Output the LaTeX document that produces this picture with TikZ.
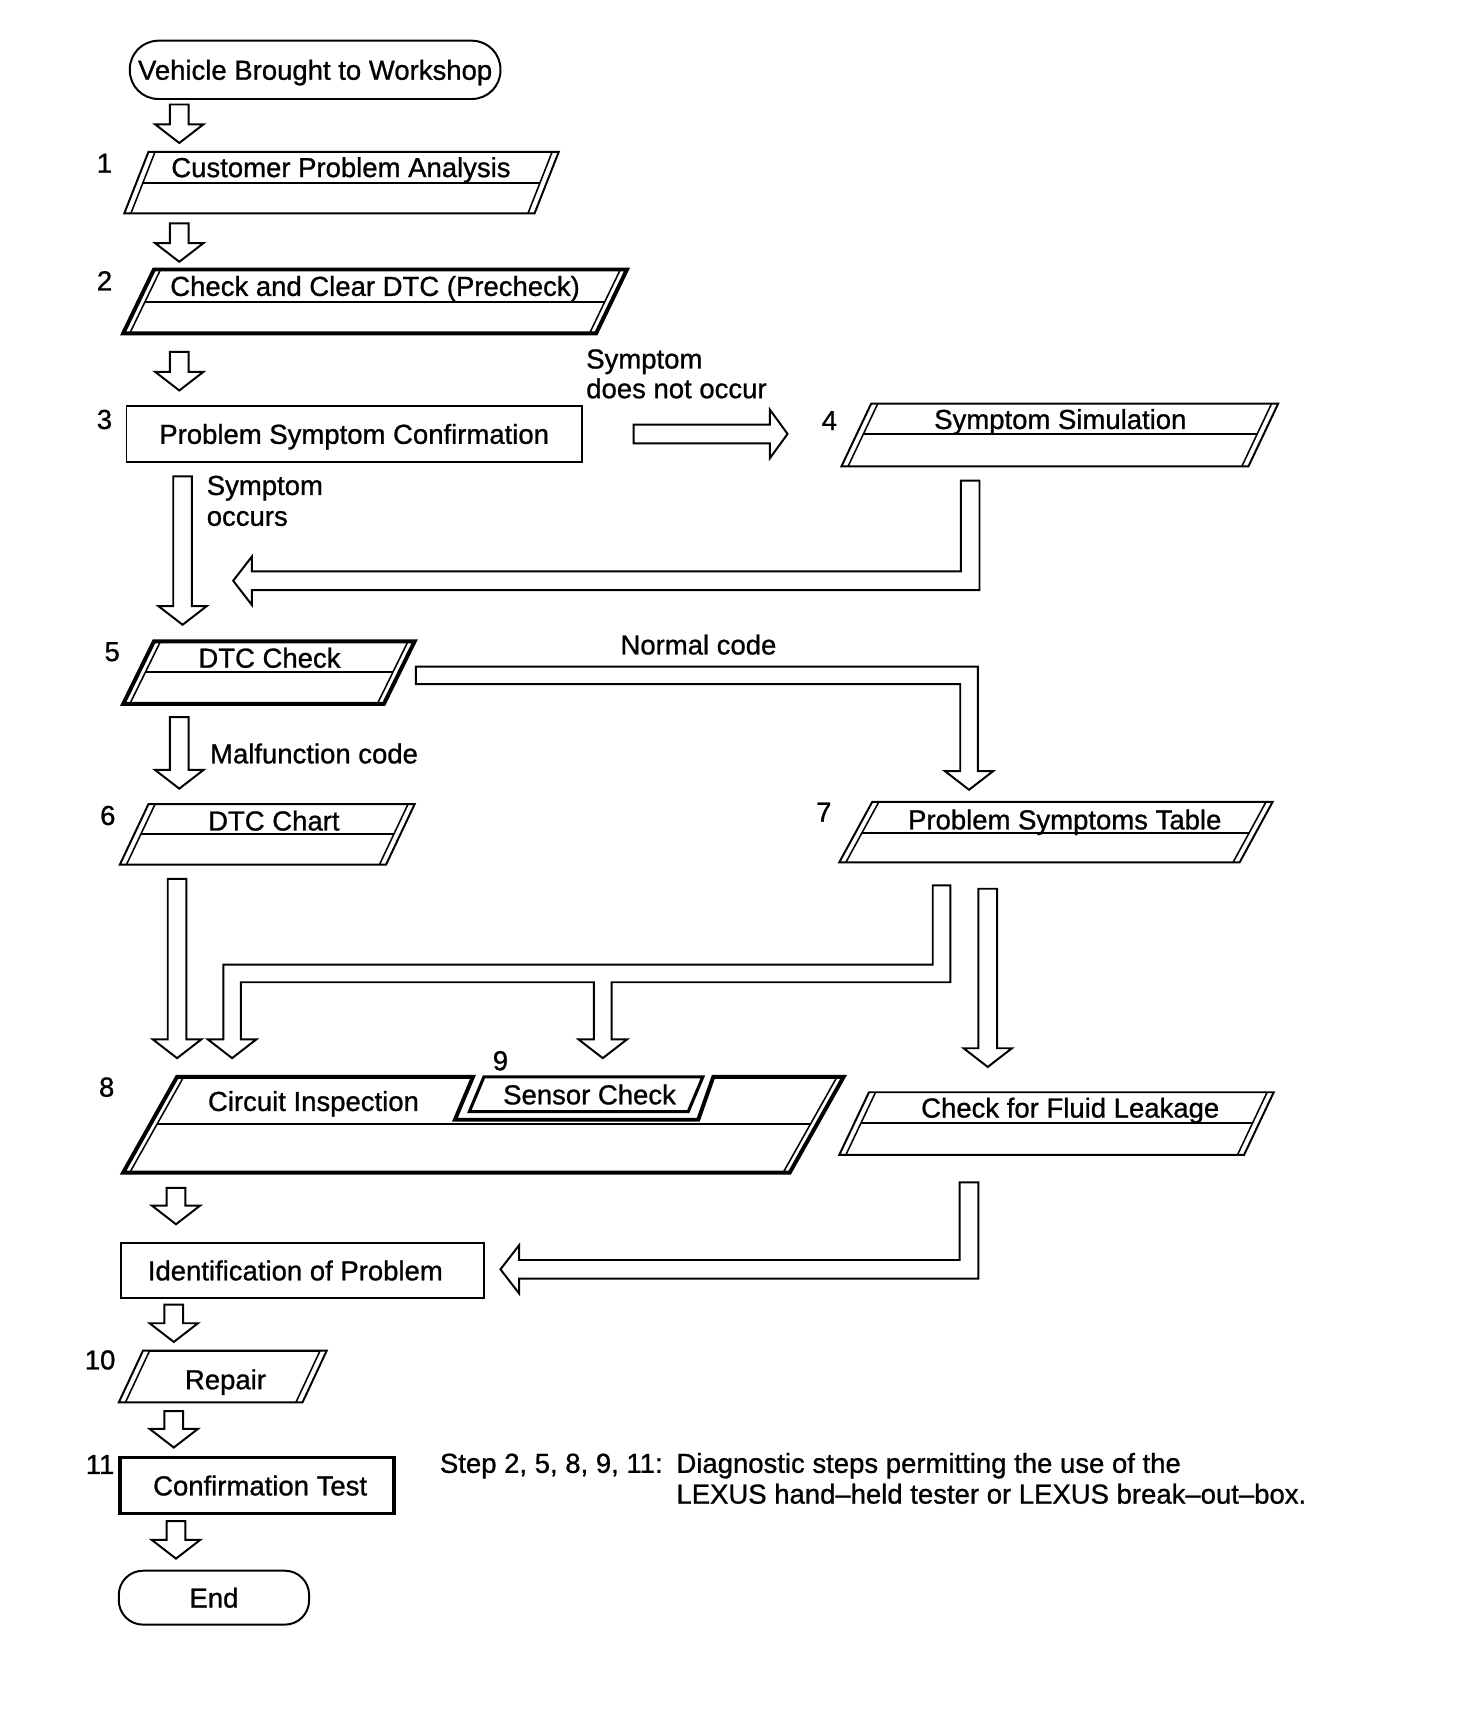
\documentclass[tikz,border=0pt]{standalone}
\usepackage{fontspec}
\setmainfont{Liberation Sans}[RawFeature={embolden=0.9}]
\usetikzlibrary{calc}
\newcommand\bdown[2]{\draw[blk] let \p1=#1, \p2=#2 in
  (\x1-8.5pt,\y1) -- (\x1+8.5pt,\y1) -- (\x1+8.5pt,\y2+17pt) -- (\x1+22pt,\y2+17pt) -- (\x1,\y2) -- (\x1-22pt,\y2+17pt) -- (\x1-8.5pt,\y2+17pt) -- cycle;}
\newcommand\bleftL[2]{\draw[blk] let \p1=#1, \p2=#2 in
  (\x1-8.5pt,\y1) -- (\x1+8.5pt,\y1) -- (\x1+8.5pt,\y2-8.5pt) -- (\x2+17pt,\y2-8.5pt) -- (\x2+17pt,\y2-22pt) -- (\x2,\y2) -- (\x2+17pt,\y2+22pt) -- (\x2+17pt,\y2+8.5pt) -- (\x1-8.5pt,\y2+8.5pt) -- cycle;}
\newcommand\mypgram[8]{%
  \draw[#2] (#3,#5) -- (#4,#5) -- ({#4-#7},#6) -- ({#3-#7},#6) -- cycle;
  \draw[pinner] ({#3+6},#5) -- ({#3+6-#7},#6);
  \draw[pinner] ({#4-6},#5) -- ({#4-6-#7},#6);
  \draw[pdiv] ({#3+6-#7*(#8-#5)/(#6-#5)},#8) -- ({#4-6-#7*(#8-#5)/(#6-#5)},#8);
  \coordinate (#1-top) at ({(#3+#4)/2},#5);
  \coordinate (#1-bot) at ({(#3+#4)/2-#7},#6);
}
\begin{document}
\begin{tikzpicture}[x=1pt,y=-1pt,
  every node/.style={font=\fontsize{25}{28}\selectfont, inner sep=0pt, outer sep=0pt},
  txt/.style={text height=18pt, text depth=0pt},
  rbox/.style={draw, line width=1.8pt, txt, fill=white},
  blk/.style={draw, line width=1.8pt, fill=white, line join=miter, miter limit=4},
  pthin/.style={draw, line width=1.8pt, fill=white},
  pthick/.style={draw, line width=3.6pt, fill=white},
  pinner/.style={line width=1.4pt},
  pdiv/.style={line width=1.8pt},
  num/.style={anchor=base},
  lab/.style={anchor=base west}]
\fill[white] (0,0) rectangle (1324,1571);
\useasboundingbox (0,0) rectangle (1324,1571);

\coordinate (cA) at (163,0);
\coordinate (cB) at (166,0);
\coordinate (cC) at (161,0);
\coordinate (cD) at (898,0);
\coordinate (cE) at (160,0);
\coordinate (cF) at (158,0);

% boxes
\node[rbox, rounded corners=26pt, minimum width=337pt, minimum height=53pt] (start) at (286.5,63.5) {Vehicle Brought to Workshop};

\mypgram{p1}{pthin}{135}{508}{138}{194}{22}{166}
\node[txt] (t1) at (310,152) {Customer Problem Analysis};

\mypgram{p2}{pthick}{140}{570}{245}{303}{28}{275}
\node[txt] (t2) at (341,260) {Check and Clear DTC (Precheck)};

\node[rbox, minimum width=414pt, minimum height=51pt] (r3) at (322,394.5) {Problem Symptom Confirmation};

\mypgram{p4}{pthin}{792}{1162}{367}{424}{27}{395}
\node[txt] (t4) at (964,381) {Symptom Simulation};

\mypgram{p5}{pthick}{140}{377}{583}{640}{28}{611}
\node[txt] (t5) at (245,598) {DTC Check};

\mypgram{p6}{pthin}{135}{377}{731}{786}{26}{758}
\node[txt] (t6) at (249,746) {DTC Chart};

\mypgram{p7}{pthin}{793}{1157}{729}{784}{30}{757}
\node[txt] (t7) at (968,745) {Problem Symptoms Table};

% step 8 with embedded step 9
\draw[pthick] (161,979) -- (430,979) -- (413.6,1018) -- (634.8,1018) -- (648.5,979) -- (767,979) -- (718,1066) -- (112,1066) -- cycle;
\draw[pinner] (167,979) -- (118,1066);
\draw[pinner] (761,979) -- (712,1066);
\draw[pdiv] (142.8,1022) -- (736.8,1022);
\draw[line width=2.8pt] (440,979) -- (639,979) -- (625.7,1010.6) -- (426.7,1010.6) -- cycle;
\coordinate (p8-top) at (464,979);
\coordinate (p8-bot) at (415,1066);
\node[txt] (t8) at (285,1001) {Circuit Inspection};
\node[txt] (t9) at (536,995) {Sensor Check};

\mypgram{fl}{pthin}{790}{1158}{993}{1050}{27}{1021}
\node[txt] (tfl) at (973,1007) {Check for Fluid Leakage};

\node[rbox, minimum width=330pt, minimum height=50pt] (idp) at (275,1155) {Identification of Problem\hspace*{13pt}};

\mypgram{rep}{pthin}{130}{297}{1228}{1275}{22}{1228}
\node[txt] (trep) at (205,1254) {Repair};

\node[rbox, line width=3.4pt, minimum width=249pt, minimum height=51pt] (conf) at (233.5,1350.5) {\hspace*{6pt}Confirmation Test};

\node[rbox, rounded corners=22pt, minimum width=173pt, minimum height=49pt] (fin) at (194.5,1452.5) {End};

% step numbers
\node[num] (n1) at (95,157) {1};
\node[num] (n2) at (95,264) {2};
\node[num] (n3) at (95,390) {3};
\node[num] (n4) at (754,391) {4};
\node[num] (n5) at (102,601) {5};
\node[num] (n6) at (98,750) {6};
\node[num] (n7) at (749,747) {7};
\node[num] (n8) at (97,997) {8};
\node[num] (n9) at (455,973) {9};
\node[num] (n10) at (91,1245) {10};
\node[num] (n11) at (91,1340) {11};

% straight block arrows
\bdown{($(start.south -| cA)+(0,5)$)}{($(p1-top -| cA)+(0,-8)$)}
\bdown{($(p1-bot -| cA)+(0,9)$)}{($(p2-top -| cA)+(0,-7)$)}
\bdown{($(p2-bot -| cA)+(0,17)$)}{($(r3.north -| cA)+(0,-14)$)}
\bdown{($(r3.south -| cB)+(0,13)$)}{($(p5-top -| cB)+(0,-15)$)}
\bdown{($(p5-bot -| cA)+(0,12)$)}{($(p6-top -| cA)+(0,-14)$)}
\bdown{($(p6-bot -| cC)+(0,13)$)}{($(p8-top -| cC)+(0,-17)$)}
\bdown{($(p7-bot -| cD)+(0,24)$)}{($(fl-top -| cD)+(0,-23)$)}
\bdown{($(p8-bot -| cE)+(0,14)$)}{($(idp.north -| cE)+(0,-17)$)}
\bdown{($(idp.south -| cF)+(0,6)$)}{($(rep-top -| cF)+(0,-8)$)}
\bdown{($(rep-bot -| cF)+(0,8)$)}{($(conf.north -| cF)+(0,-9)$)}
\bdown{($(conf.south -| cE)+(0,7)$)}{($(fin.north -| cE)+(0,-11)$)}

% symptom does not occur: 3 -> 4
\draw[blk] let \p1=($(r3.east)+(47,0)$), \p2=($(r3.east)+(187,0)$) in
  (\x1,\y1+8.5pt) -- (\x2-16pt,\y1+8.5pt) -- (\x2-16pt,\y1+22pt) -- (\x2,\y1) -- (\x2-16pt,\y1-22pt) -- (\x2-16pt,\y1-8.5pt) -- (\x1,\y1-8.5pt) -- cycle;

% 4 -> back to main flow
\bleftL{($(p4-bot)+(-68,13)$)}{($(r3.south)+(-110,108)$)}

% normal code: 5 -> 7
\draw[blk] let \p1=($(p5-top)+(119.5,31)$), \p2=($(p7-top)+(-94,-11)$) in
  (\x1,\y1+8pt) -- (\x2+8pt,\y1+8pt) -- (\x2+8pt,\y2+17pt) -- (\x2+22pt,\y2+17pt) -- (\x2,\y2) -- (\x2-22pt,\y2+17pt) -- (\x2-8pt,\y2+17pt) -- (\x2-8pt,\y1-8pt) -- (\x1,\y1-8pt) -- cycle;

% 7 -> 8 and 9
\draw[blk] let \p1=($(p7-bot)+(-89,21)$), \p2=($(p8-top)+(-253,-17)$), \p3=($(p8-top)+(84,-17)$), \p4=($(p7-bot)+(0,101)$) in
  (\x1-8pt,\y1) -- (\x1+8pt,\y1) -- (\x1+8pt,\y4-8pt) -- (\x3+8pt,\y4-8pt) -- (\x3+8pt,\y3+17pt) -- (\x3+22pt,\y3+17pt) -- (\x3,\y3) -- (\x3-22pt,\y3+17pt) -- (\x3-8pt,\y3+17pt) -- (\x3-8pt,\y4-8pt) -- (\x2+8pt,\y4-8pt) -- (\x2+8pt,\y2+17pt) -- (\x2+22pt,\y2+17pt) -- (\x2,\y2) -- (\x2-22pt,\y2+17pt) -- (\x2-8pt,\y2+17pt) -- (\x2-8pt,\y4+8pt) -- (\x1-8pt,\y4+8pt) -- cycle;

% fluid leakage -> identification
\bleftL{($(fl-bot)+(-66,25)$)}{($(idp.east)+(15,-1)$)}

% labels
\node[lab] (l1a) at (533,335) {Symptom};
\node[lab] (l1b) at (533,362) {does not occur};
\node[lab] (l2a) at (188,450) {Symptom};
\node[lab] (l2b) at (188,478) {occurs};
\node[anchor=base] (l3) at (635,595) {Normal code};
\node[lab] (l4) at (191,694) {Malfunction code};
\node[lab] (f1) at (400,1339) {Step 2, 5, 8, 9, 11:};
\node[lab] (f2) at (615,1339) {Diagnostic steps permitting the use of the};
\node[lab] (f3) at (615,1367) {LEXUS hand--held tester or LEXUS break--out--box.};
\end{tikzpicture}
\end{document}
